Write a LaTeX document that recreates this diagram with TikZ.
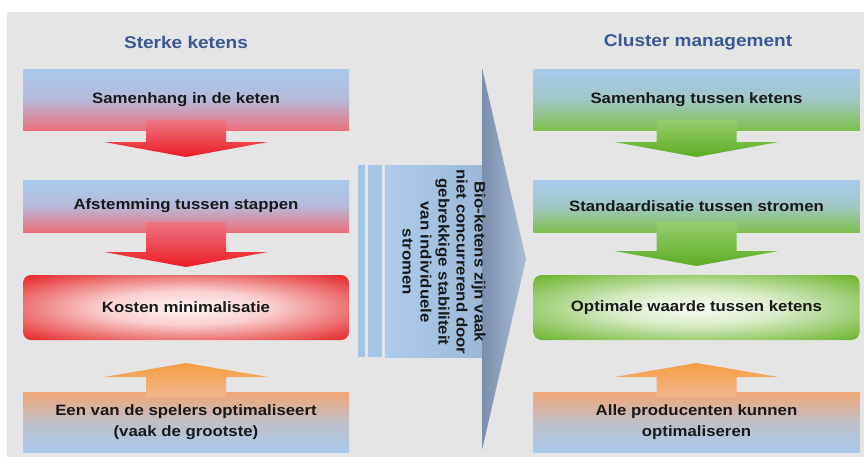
\documentclass[tikz,border=0pt]{standalone}
\usepackage{fontspec}
\newfontfamily\kaderfont[FakeStretch=1.12]{Liberation Sans}
\usetikzlibrary{calc}

\definecolor{achtergrond}{RGB}{229,229,229}
\definecolor{titelblauw}{RGB}{58,88,148}
\definecolor{tekst}{RGB}{25,25,25}
\definecolor{lichtblauw}{RGB}{170,202,236}
\definecolor{roze}{RGB}{236,112,126}
\definecolor{groen}{RGB}{128,192,78}
\definecolor{oranje}{RGB}{242,166,118}
\definecolor{kostenrood}{RGB}{228,38,40}
\definecolor{waardegroen}{RGB}{108,180,44}
\definecolor{pijlrood}{RGB}{236,28,34}
\definecolor{pijlroze}{RGB}{238,118,132}
\definecolor{pijlgroen}{RGB}{92,174,36}
\definecolor{pijlgroen2}{RGB}{150,206,110}
\definecolor{pijloranje}{RGB}{245,158,64}
\definecolor{pijlzalm}{RGB}{242,182,142}
\definecolor{midblauw}{RGB}{174,204,236}
\definecolor{midblauw2}{RGB}{156,184,214}
\definecolor{streep}{RGB}{166,196,228}
\definecolor{grijsblauw}{RGB}{122,142,174}
\definecolor{grijsblauw2}{RGB}{172,190,214}

\pgfdeclareradialshading{gloedrood}{\pgfpoint{0bp}{0bp}}{color(0bp)=(white!96!kostenrood); color(13bp)=(white!78!kostenrood); color(35bp)=(kostenrood); color(50bp)=(kostenrood)}
\pgfdeclareradialshading{gloedgroen}{\pgfpoint{0bp}{0bp}}{color(0bp)=(white!96!waardegroen); color(13bp)=(white!75!waardegroen); color(35bp)=(waardegroen); color(50bp)=(waardegroen)}

\newcommand{\neerpijl}[3]{%
  \shade[#3] let \p1=(#1), \p2=(#2) in
    (\x1-40pt,\y1+10pt) -- (\x1+40pt,\y1+10pt) -- (\x1+40pt,\y2+15pt) -- (\x1+82pt,\y2+15pt)
    -- (\x2,\y2) -- (\x1-82pt,\y2+15pt) -- (\x1-40pt,\y2+15pt) -- cycle;}
\newcommand{\oppijl}[3]{%
  \shade[#3] let \p1=(#1), \p2=(#2) in
    (\x1-40pt,\y1-5pt) -- (\x1+40pt,\y1-5pt) -- (\x1+40pt,\y2-14pt) -- (\x1+82pt,\y2-14pt)
    -- (\x2,\y2) -- (\x1-82pt,\y2-14pt) -- (\x1-40pt,\y2-14pt) -- cycle;}

\tikzset{
  kader/.style={minimum width=326pt, inner sep=0pt, align=center, text=tekst,
    font=\kaderfont\bfseries\fontsize{15pt}{21pt}\selectfont},
  links/.style={top color=lichtblauw, bottom color=roze, middle color=lichtblauw!82!roze},
  rechts/.style={top color=lichtblauw, bottom color=groen, middle color=lichtblauw!75!groen},
  onder/.style={top color=oranje, bottom color=lichtblauw, middle color=lichtblauw!70!oranje},
  gloed/.style={shade, rounded corners=8pt},
  titel/.style={text=titelblauw, font=\kaderfont\bfseries\fontsize{17pt}{20pt}\selectfont},
  roodpijl/.style={top color=pijlroze, bottom color=pijlrood},
  groenpijl/.style={top color=pijlgroen2, bottom color=pijlgroen},
  oranjepijl/.style={top color=pijloranje, bottom color=pijlzalm},
  midtekst/.style={align=center, text=tekst, inner sep=0pt,
    font=\kaderfont\bfseries\fontsize{15pt}{18pt}\selectfont}
}

\begin{document}
\begin{tikzpicture}[x=1pt,y=-1pt]
\useasboundingbox (0,0) rectangle (864,466);
\fill[white] (0,0) rectangle (864,466);
\fill[achtergrond] (7,12) rectangle (864,457);

\node[titel] (tl) at (186,42) {Sterke ketens};
\node[titel] (tr) at (698,42) {Cluster management};

\node[kader, links, minimum height=61pt] (ls1) at (186,99.5) {Samenhang in de keten};
\node[kader, links, minimum height=52pt] (ls2) at (186,206) {Afstemming tussen stappen};
\node[kader, gloed, shading=gloedrood, minimum height=65pt] (ls3) at (186,307.5) {Kosten minimalisatie};
\node[kader, onder, minimum height=60pt] (ls4) at (186,422) {Een van de spelers optimaliseert\\(vaak de grootste)};

\node[kader, rechts, minimum height=61pt] (rs1) at (696.5,99.5) {Samenhang tussen ketens};
\node[kader, rechts, minimum height=52pt] (rs2) at (696.5,206) {Standaardisatie tussen stromen};
\node[kader, gloed, shading=gloedgroen, minimum height=65pt] (rs3) at (696.5,307.5) {Optimale waarde tussen ketens};
\node[kader, onder, minimum height=60pt] (rs4) at (696.5,422) {Alle producenten kunnen\\optimaliseren};

\coordinate (lp1) at (186,157);
\coordinate (lp2) at (186,267);
\coordinate (lp3) at (186,363);
\coordinate (rp1) at (696.5,157);
\coordinate (rp2) at (696.5,266);
\coordinate (rp3) at (696.5,363);

\neerpijl{ls1.south}{lp1}{roodpijl}
\neerpijl{ls2.south}{lp2}{roodpijl}
\oppijl{ls4.north}{lp3}{oranjepijl}
\neerpijl{rs1.south}{rp1}{groenpijl}
\neerpijl{rs2.south}{rp2}{groenpijl}
\oppijl{rs4.north}{rp3}{oranjepijl}

\fill[streep] (358,165) rectangle (365,357);
\fill[streep] (368,165) rectangle (382,357);
\shade[left color=midblauw, right color=midblauw2] (385,165) rectangle (483,357);
\shade[left color=grijsblauw, right color=grijsblauw2] (482,68) -- (526,259) -- (482,450) -- cycle;
\node[midtekst, rotate=-90] (bio) at (444,262) {Bio-ketens zijn vaak\\niet concurrerend door\\gebrekkige stabiliteit\\van individuele\\stromen};
\end{tikzpicture}
\end{document}
